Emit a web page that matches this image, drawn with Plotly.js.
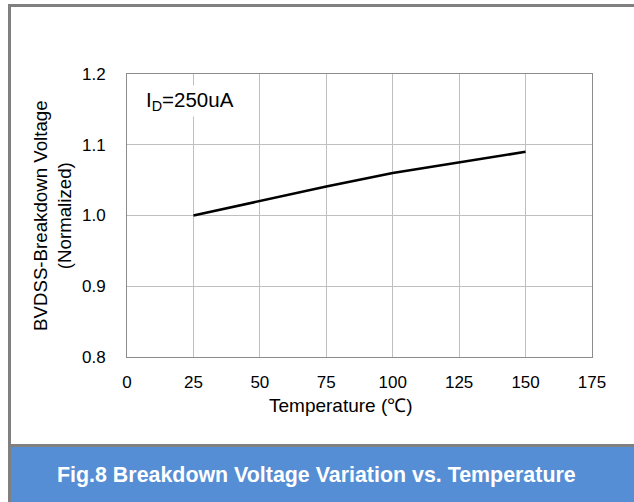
<!DOCTYPE html>
<html>
<head>
<meta charset="utf-8">
<script src="https://cdn.plot.ly/plotly-3.0.1.min.js"></script>
<style>
html,body{margin:0;padding:0;background:#fff;}
#chart{width:634px;height:502px;}
</style>
</head>
<body>
<div id="chart"></div>
<script>
// Data
const temperature = [25, 50, 75, 100, 125, 150];
const bvdssNormalized = [1.0, 1.021, 1.041, 1.06, 1.075, 1.09];
const xTicks = [0, 25, 50, 75, 100, 125, 150, 175];
const yTicks = [0.8, 0.9, 1.0, 1.1, 1.2];
const yTickLabels = ['0.8', '0.9', '1.0', '1.1', '1.2'];

const W = 634, H = 502;
const L = 127, R = 592, T = 74, B = 357;
const px = v => (v - L) / (R - L);
const py = v => (B - v) / (B - T);

const font = 'Arial, "Liberation Sans", sans-serif';

const trace = {
  x: temperature, y: bvdssNormalized, type: 'scatter', mode: 'lines',
  line: {color: '#000000', width: 2.6}, hoverinfo: 'none'
};

const layout = {
  width: W, height: H,
  margin: {l: L, r: W - R, t: T, b: H - B, pad: 0},
  paper_bgcolor: '#ffffff', plot_bgcolor: '#ffffff',
  showlegend: false,
  font: {family: font, color: '#000000', size: 17},
  xaxis: {
    range: [0, 175], tickvals: xTicks, ticktext: xTicks.map(String),
    showgrid: true, gridcolor: '#bfbfbf', gridwidth: 1,
    zeroline: false, showline: true, linecolor: '#8c8c8c', linewidth: 1, mirror: true,
    ticks: '', ticklabelstandoff: 10, tickfont: {size: 17, family: font, color: '#000'},
    fixedrange: true
  },
  yaxis: {
    range: [0.8, 1.2], tickvals: yTicks, ticktext: yTickLabels,
    showgrid: true, gridcolor: '#bfbfbf', gridwidth: 1,
    zeroline: false, showline: true, linecolor: '#8c8c8c', linewidth: 1, mirror: true,
    ticks: '', ticklabelstandoff: 17, tickfont: {size: 17, family: font, color: '#000'},
    fixedrange: true
  },
  shapes: [
    {type: 'rect', xref: 'paper', yref: 'paper', x0: px(8), x1: px(640), y0: py(447), y1: py(510),
     fillcolor: '#558ed5', line: {width: 0}, layer: 'below'},
    {type: 'rect', xref: 'paper', yref: 'paper', x0: px(8), x1: px(640), y0: py(4), y1: py(7),
     fillcolor: '#808080', line: {width: 0}},
    {type: 'rect', xref: 'paper', yref: 'paper', x0: px(8), x1: px(11), y0: py(4), y1: py(510),
     fillcolor: '#808080', line: {width: 0}},
    {type: 'rect', xref: 'paper', yref: 'paper', x0: px(8), x1: px(640), y0: py(444), y1: py(447),
     fillcolor: '#808080', line: {width: 0}}
  ],
  annotations: [
    {xref: 'paper', yref: 'paper', x: px(143), y: py(101), xanchor: 'left', yanchor: 'middle',
     text: 'I<sub>D</sub>=250uA', showarrow: false, bgcolor: '#ffffff', borderpad: 2,
     font: {size: 20.5, family: font, color: '#000'}},
    {xref: 'paper', yref: 'paper', x: px(341), y: py(406), xanchor: 'center', yanchor: 'middle',
     text: 'Temperature (℃)', showarrow: false, font: {size: 19, family: font, color: '#000'}},
    {xref: 'paper', yref: 'paper', x: px(52), y: py(216), xanchor: 'center', yanchor: 'middle',
     text: 'BVDSS-Breakdown Voltage<br>(Normalized)', textangle: -90, showarrow: false,
     font: {size: 18.7, family: font, color: '#000'}},
    {xref: 'paper', yref: 'paper', x: px(316), y: py(475), xanchor: 'center', yanchor: 'middle',
     text: '<b>Fig.8 Breakdown Voltage Variation vs. Temperature</b>', showarrow: false,
     font: {size: 21.4, family: font, color: '#ffffff'}}
  ]
};

Plotly.newPlot('chart', [trace], layout, {displayModeBar: false, staticPlot: true});
</script>
</body>
</html>
